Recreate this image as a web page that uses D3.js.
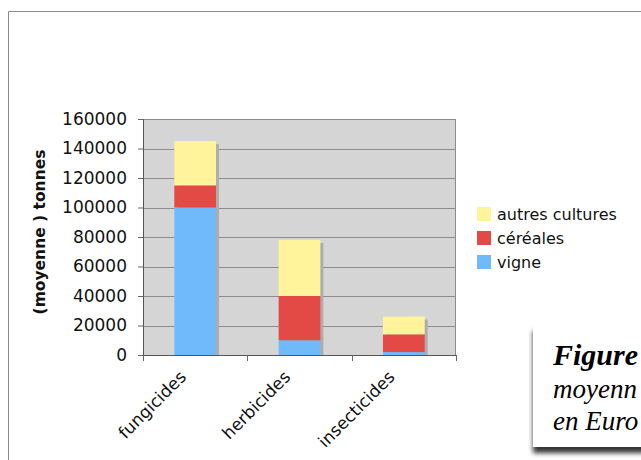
<!DOCTYPE html>
<html>
<head>
<meta charset="utf-8">
<script src="https://cdn.jsdelivr.net/npm/d3@7"></script>
<style>
	body { margin: 0; background: #fff; }
	svg { display: block; }
	.tick text { font-family: "DejaVu Sans", Verdana, sans-serif; fill: #111; }
</style>
</head>
<body>
<svg id="chart" width="641" height="460"></svg>
<script>
(function() {

	// DATA
	var categories = ['fungicides', 'herbicides', 'insecticides'];
	var seriesNames = ['vigne', 'céréales', 'autres cultures'];
	var vigne = [100000, 10000, 2000];
	var cereales = [15000, 30000, 12000];
	var autres = [30000, 38000, 12000];
	var yTicks = [0, 20000, 40000, 60000, 80000, 100000, 120000, 140000, 160000];
	var colors = ['#70b9fb', '#e34a45', '#fff39b'];
	// caption lines, as far as they are visible in the page
	var captionLines = ['Figure', 'moyenn', 'en Euro'];

	var margin = { top: 119, left: 143, right: 185, bottom: 105 };
	var width = 641 - margin.left - margin.right;
	var height = 460 - margin.top - margin.bottom;

	var rows = categories.map(function(c, i) {
		var r = { cat: c };
		r[seriesNames[0]] = vigne[i];
		r[seriesNames[1]] = cereales[i];
		r[seriesNames[2]] = autres[i];
		return r;
	});

	var stacked = d3.stack().keys(seriesNames)(rows);

	var svg = d3.select('#chart');

	// outer frame
	svg.append('path')
		.attr('d', 'M8.5,470 V11.5 H660')
		.attr('fill', 'none')
		.attr('stroke', '#8a8a8a')
		.attr('stroke-width', 1);

	var x = d3.scaleBand().domain(categories).range([0, width]).paddingInner(0.6).paddingOuter(0.3);
	var y = d3.scaleLinear().domain([0, 160000]).range([height, 0]);

	var g = svg.append('g').attr('transform', 'translate(' + margin.left + ',' + margin.top + ')');

	g.append('rect')
		.attr('width', width).attr('height', height)
		.attr('fill', '#d5d5d5');

	// gridlines
	g.selectAll('.grid').data(yTicks.slice(1))
		.enter().append('line')
		.attr('x1', 0).attr('x2', width)
		.attr('y1', function(d) { return Math.round(y(d)) + 0.5; })
		.attr('y2', function(d) { return Math.round(y(d)) + 0.5; })
		.attr('stroke', '#8c8c8c');

	g.append('line')
		.attr('x1', width - 0.5).attr('x2', width - 0.5)
		.attr('y1', 0).attr('y2', height)
		.attr('stroke', '#8c8c8c');

	// shadows
	var layer = g.selectAll('.layer').data(stacked).enter().append('g');

	g.selectAll('.shadow').data(rows)
		.enter().insert('rect', 'g')
		.attr('x', function(d) { return x(d.cat) + 3; })
		.attr('y', function(d, i) { return y(vigne[i] + cereales[i] + autres[i]) + 3; })
		.attr('width', x.bandwidth())
		.attr('height', function(d, i) { return height - y(vigne[i] + cereales[i] + autres[i]) - 3; })
		.attr('fill', '#adadad');

	layer.attr('fill', function(d, i) { return colors[i]; })
		.selectAll('rect').data(function(d) { return d; })
		.enter().append('rect')
		.attr('x', function(d) { return x(d.data.cat); })
		.attr('y', function(d) { return y(d[1]); })
		.attr('width', x.bandwidth())
		.attr('height', function(d) { return y(d[0]) - y(d[1]); });

	// axes
	var axisY = d3.axisLeft(y).tickValues(yTicks).tickSize(5).tickPadding(11).tickFormat(d3.format('d'));
	var gy = g.append('g').call(axisY);
	gy.select('.domain').attr('stroke', '#555').attr('d', 'M-5,0.5 H0.5 V' + height);
	gy.selectAll('.tick line').attr('stroke', '#666');
	gy.selectAll('.tick text').style('font-size', '17px');

	var xEdges = d3.scaleLinear().domain([0, 3]).range([0, width]);
	var gx = g.append('g').attr('transform', 'translate(0,' + height + ')');
	gx.append('line').attr('x1', 0).attr('x2', width).attr('y1', 0.5).attr('y2', 0.5).attr('stroke', '#555');
	gx.selectAll('.xt').data([0, 1, 2, 3]).enter().append('line')
		.attr('x1', function(d) { return Math.round(xEdges(d)) + 0.5; })
		.attr('x2', function(d) { return Math.round(xEdges(d)) + 0.5; })
		.attr('y1', 0).attr('y2', 6)
		.attr('stroke', '#666');
	gx.selectAll('.xl').data(categories).enter().append('text')
		.attr('transform', function(d) {
			return 'translate(' + (x(d) + x.bandwidth() / 2 - 8) + ',23) rotate(-45)';
		})
		.attr('text-anchor', 'end')
		.style('font-family', '"DejaVu Sans", Verdana, sans-serif')
		.style('font-size', '17px')
		.attr('fill', '#111')
		.text(function(d) { return d; });

	// y label
	svg.append('text')
		.attr('transform', 'translate(45,232) rotate(-90)')
		.attr('text-anchor', 'middle')
		.style('font-family', '"DejaVu Sans", Verdana, sans-serif')
		.style('font-weight', 'bold')
		.style('font-size', '15.5px')
		.attr('fill', '#111')
		.text('(moyenne ) tonnes');

	// legend
	var legend = svg.append('g').attr('transform', 'translate(477,207)');
	var legendItems = seriesNames.slice().reverse();
	var li = legend.selectAll('g').data(legendItems).enter().append('g')
		.attr('transform', function(d, i) { return 'translate(0,' + (i * 24) + ')'; });
	li.append('rect').attr('width', 14).attr('height', 14)
		.attr('fill', function(d) { return colors[seriesNames.indexOf(d)]; });
	li.append('text').attr('x', 20).attr('y', 13)
		.style('font-family', '"DejaVu Sans", Verdana, sans-serif')
		.style('font-size', '16px')
		.attr('fill', '#111')
		.text(function(d) { return d; });

	// caption box
	var defs = svg.append('defs');
	var f = defs.append('filter').attr('id', 'sh').attr('x', '-20%').attr('y', '-20%').attr('width', '150%').attr('height', '150%');
	f.append('feGaussianBlur').attr('in', 'SourceAlpha').attr('stdDeviation', 2.5);
	f.append('feOffset').attr('dx', 0).attr('dy', 6).attr('result', 'b');
	f.append('feComponentTransfer').append('feFuncA').attr('type', 'linear').attr('slope', 0.8);
	var fm = f.append('feMerge');
	fm.append('feMergeNode');
	fm.append('feMergeNode').attr('in', 'SourceGraphic');

	svg.append('rect')
		.attr('x', 533).attr('y', 325).attr('width', 160).attr('height', 122)
		.attr('fill', '#fff')
		.attr('filter', 'url(#sh)');

	var cap = svg.append('g')
		.style('font-family', '"Liberation Serif", "Times New Roman", serif')
		.style('font-style', 'italic')
		.attr('fill', '#000');
	cap.selectAll('text').data(captionLines).enter().append('text')
		.attr('x', 553)
		.attr('y', function(d, i) { return [365, 398, 430][i]; })
		.style('font-weight', function(d, i) { return i === 0 ? 'bold' : 'normal'; })
		.style('font-size', function(d, i) { return i === 0 ? '30px' : '27px'; })
		.text(function(d) { return d; });
})();
</script>
</body>
</html>
